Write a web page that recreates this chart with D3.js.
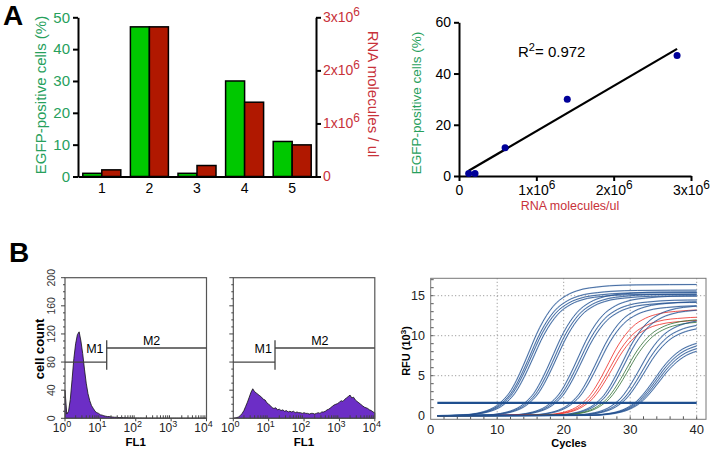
<!DOCTYPE html>
<html>
<head>
<meta charset="utf-8">
<script src="https://cdn.jsdelivr.net/npm/d3@7"></script>
<style>
  body { margin: 0; background: #fff; }
  svg { display: block; font-family: Arial, "Liberation Sans", Helvetica, sans-serif; }
</style>
</head>
<body>
<svg width="714" height="451"></svg>
<script>
// ---- panel A data
const barCategories = ["1", "2", "3", "4", "5"]
const egfpPercent = [1, 47, 1, 30, 11]
const rnaMolecules = [0.125e6, 2.82e6, 0.207e6, 1.40e6, 0.596e6]
const pctTicks = [0, 10, 20, 30, 40, 50]
const rnaTicks = [0, 1e6, 2e6, 3e6]
const scatterPctTicks = [0, 20, 40, 60]
const r2Text = "= 0.972"

// ---- panel B flow histograms (counts per 0.05 decade of FL1, 10^0 .. 10^4)
const flowCounts1 = [
    40, 6, 10, 27, 55, 85, 106, 119, 123, 110,
    92, 70, 50, 35, 25, 18, 14, 10, 8, 7,
    5, 4.5, 3.5, 3, 2.5, 2.5, 2, 1.8, 1.5, 1.5,
    1.2, 1, 1.1, 0.9, 0.8, 0.8, 0.6, 0.6, 0.5, 0.5,
    0.4, 0.4, 0.3, 0.4, 0.3, 0.3, 0.3, 0.2, 0.3, 0.2,
    0.2, 0.2, 0.2, 0.2, 0.2, 0.2, 0.2, 0.2, 0.2, 0.2,
    0.2, 0.2, 0.2, 0.2, 0.2, 0.2, 0.2, 0.2, 0.2, 0.2,
    0.2, 0.2, 0.2, 0.2, 0.2, 0.2, 0.2, 0.2, 0.2, 0.2, 0.2
]
const flowCounts2 = [
    0, 0.5, 1, 2, 4, 7, 11, 17, 23, 30,
    37, 42, 38, 36, 34, 32, 30, 27, 26, 22,
    20, 18, 15, 14, 15, 12, 13, 11, 12, 10,
    11, 9, 10, 9, 10, 8, 9, 8, 8, 7,
    8, 7, 7, 6, 7, 7, 6, 7, 8, 7,
    9, 9, 10, 12, 13, 15, 17, 19, 20, 21,
    23, 25, 24, 27, 29, 31, 33, 29, 30, 26,
    24, 22, 20, 18, 16, 15, 14, 12, 11, 9, 8
]
const flowLog = d3.range(flowCounts1.length).map(i => i * 0.05)
const flowCountTicks = [0, 40, 80, 120, 160, 200]
const flowDecades = [0, 1, 2, 3, 4]
const gateM1 = [1, 15.1]
const gateM2 = [15.1, 1e4]

// ---- panel B qPCR amplification curves
// shape of one amplification curve: cycles from midpoint -> fraction of plateau
const shapeOffset = [-26, -10, -8, -7, -6, -5, -4, -3, -2, -1, 0, 1, 2, 3, 4, 5, 6, 7, 8, 10, 12, 16, 26]
const shapeFraction = [0, 0.006, 0.018, 0.03, 0.048, 0.076, 0.12, 0.18, 0.27, 0.38, 0.5, 0.62, 0.72, 0.8, 0.86, 0.9, 0.93, 0.95, 0.965, 0.98, 0.99, 0.997, 1]
const curveMid = [14.9, 15.1, 15.3, 15.6, 18.5, 18.8, 19.1, 22.3, 22.6, 22.9, 25.2, 25.5,
    26.8, 27.1, 27.4, 29.0, 29.3, 29.6, 29.9, 31.6, 32.0, 32.3, 33.9, 34.1, 34.3, 34.5]
const curvePlateau = [16.4, 15.7, 15.4, 15.2, 15.5, 15.2, 15.0, 15.0, 14.5, 14.2, 14.3, 13.8,
    13.3, 12.4, 12.0, 13.9, 13.4, 12.2, 11.9, 12.2, 11.7, 11.3, 9.7, 9.4, 9.1, 8.8]
const curveSample = ["s", "s", "s", "s", "s", "s", "s", "s", "s", "s", "s", "s",
    "r", "r", "r", "s", "s", "g", "g", "s", "s", "s", "s", "s", "s", "s"]
const thresholdRFU = 1.6
const cycleTicks = [0, 10, 20, 30, 40]
const rfuTicks = [0, 5, 10, 15]

const GREEN_TEXT = "#27a05c"
const RED_TEXT = "#c8323a"
const svg = d3.select("svg")

function sixLabels(axisG) {
    axisG.selectAll(".tick text").each(function (d) {
        const t = d3.select(this)
        if (d === 0) return t.text("0")
        t.text(`${d / 1e6}x10`)
        t.append("tspan").attr("dy", "-0.5em").attr("font-size", "0.85em").text("6")
    })
}

function styleAxis(g, size) {
    g.select(".domain").attr("stroke-width", 2)
    g.selectAll(".tick line").attr("stroke-width", 2)
    g.selectAll(".tick text").attr("font-size", size)
}

// ================= Panel A, bars
svg.append("text").attr("x", 3).attr("y", 25).attr("font-size", 28).attr("font-weight", "bold").text("A")

const barX = d3.scaleBand().domain(barCategories).range([78, 316])
const pctY = d3.scaleLinear().domain([0, 50]).range([176.5, 17.3])
const rnaY = d3.scaleLinear().domain([0, 3e6]).range([176.5, 17.3])
const bw = 19

svg.append("g").selectAll("rect")
    .data(egfpPercent)
    .join("rect")
    .attr("x", (d, i) => barX(barCategories[i]) + barX.bandwidth() / 2 - bw)
    .attr("y", d => pctY(d))
    .attr("width", bw)
    .attr("height", d => pctY(0) - pctY(d))
    .attr("fill", "#00c800")
    .attr("stroke", "#000")
    .attr("stroke-width", 1.5)

svg.append("g").selectAll("rect")
    .data(rnaMolecules)
    .join("rect")
    .attr("x", (d, i) => barX(barCategories[i]) + barX.bandwidth() / 2)
    .attr("y", d => rnaY(d))
    .attr("width", bw)
    .attr("height", d => rnaY(0) - rnaY(d))
    .attr("fill", "#b01800")
    .attr("stroke", "#000")
    .attr("stroke-width", 1.5)

let g = svg.append("g").attr("transform", "translate(78,0)")
    .call(d3.axisLeft(pctY).tickValues(pctTicks).tickSize(5).tickSizeOuter(0).tickPadding(3))
styleAxis(g, 15)
g.selectAll(".tick text").attr("fill", GREEN_TEXT)

g = svg.append("g").attr("transform", "translate(316,0)")
    .call(d3.axisRight(rnaY).tickValues(rnaTicks).tickSize(5).tickSizeOuter(0).tickPadding(2))
styleAxis(g, 14)
g.selectAll(".tick text").attr("fill", RED_TEXT)
sixLabels(g)

g = svg.append("g").attr("transform", "translate(0,176.5)")
    .call(d3.axisBottom(barX).tickSize(0).tickPadding(7))
styleAxis(g, 14)

svg.append("text")
    .attr("transform", "translate(46,95) rotate(-90)")
    .attr("text-anchor", "middle").attr("font-size", 15).attr("fill", GREEN_TEXT)
    .text("EGFP-positive cells (%)")

svg.append("text")
    .attr("transform", "translate(368,94) rotate(90)")
    .attr("text-anchor", "middle").attr("font-size", 15).attr("fill", RED_TEXT)
    .text("RNA molecules / ul")

// ================= Panel A, scatter with linear fit
const scX = d3.scaleLinear().domain([0, 3e6]).range([459, 691])
const scY = d3.scaleLinear().domain([0, 60]).range([176, 22.3])

g = svg.append("g").attr("transform", "translate(459,0)")
    .call(d3.axisLeft(scY).tickValues(scatterPctTicks).tickSize(5).tickSizeOuter(0).tickPadding(3))
styleAxis(g, 14)
g = svg.append("g").attr("transform", "translate(0,176)")
    .call(d3.axisBottom(scX).tickValues(rnaTicks).tickSize(5).tickSizeOuter(0).tickPadding(4))
styleAxis(g, 14)
sixLabels(g)

const mx = d3.mean(rnaMolecules), my = d3.mean(egfpPercent)
const slope = d3.sum(rnaMolecules, (x, i) => (x - mx) * (egfpPercent[i] - my)) /
    d3.sum(rnaMolecules, x => (x - mx) ** 2)
const fitX = d3.extent(rnaMolecules)
svg.append("line")
    .attr("x1", scX(fitX[0])).attr("y1", scY(my + slope * (fitX[0] - mx)))
    .attr("x2", scX(fitX[1])).attr("y2", scY(my + slope * (fitX[1] - mx)))
    .attr("stroke", "#000").attr("stroke-width", 2.2)

svg.append("g").selectAll("circle")
    .data(rnaMolecules)
    .join("circle")
    .attr("cx", d => scX(d))
    .attr("cy", (d, i) => scY(egfpPercent[i]))
    .attr("r", 3.5)
    .attr("fill", "#000099")

const r2 = svg.append("text").attr("x", 518).attr("y", 57).attr("font-size", 15).text("R")
r2.append("tspan").attr("dy", -6).attr("font-size", 11).text("2")
r2.append("tspan").attr("dy", 6).text(r2Text)

svg.append("text")
    .attr("transform", "translate(421,103) rotate(-90)")
    .attr("text-anchor", "middle").attr("font-size", 13.5).attr("fill", GREEN_TEXT)
    .text("EGFP-positive cells (%)")
svg.append("text")
    .attr("x", 570).attr("y", 210)
    .attr("text-anchor", "middle").attr("font-size", 12.5).attr("fill", RED_TEXT)
    .text("RNA molecules/ul")

// ================= Panel B, flow histograms
svg.append("text").attr("x", 9).attr("y", 262).attr("font-size", 28).attr("font-weight", "bold").text("B")

function drawFlow(x0, counts, withCountLabels) {
    const fx = d3.scaleLog().domain([1, 1e4]).range([x0, x0 + 141.5])
    const fy = d3.scaleLinear().domain([0, 200]).range([418.3, 277.7])
    const pg = svg.append("g")
    const pts = flowLog.map((lg, i) => [10 ** lg, counts[i]])

    pg.append("path")
        .datum(pts)
        .attr("d", d3.area().x(d => fx(d[0])).y0(fy(0)).y1(d => fy(d[1])))
        .attr("fill", "#6c2ec6")
        .attr("stroke", "#111")
        .attr("stroke-width", 0.8)

    pg.append("rect")
        .attr("x", fx(1)).attr("y", fy(200))
        .attr("width", fx(1e4) - fx(1)).attr("height", fy(0) - fy(200))
        .attr("fill", "none").attr("stroke", "#555").attr("stroke-width", 1.2)

    // count ticks, minor every 10
    pg.selectAll("line.ytick")
        .data(d3.range(0, 201, 10))
        .join("line")
        .attr("x1", d => fx(1) - (d % 40 === 0 ? 4 : 2)).attr("x2", fx(1))
        .attr("y1", d => fy(d)).attr("y2", d => fy(d))
        .attr("stroke", "#444").attr("stroke-width", 1)
    if (withCountLabels) {
        pg.selectAll("text.ylab")
            .data(flowCountTicks)
            .join("text")
            .attr("transform", d => `translate(${fx(1) - 10},${fy(d)}) rotate(-90)`)
            .attr("text-anchor", "middle").attr("font-size", 10.5).attr("fill", "#333")
            .text(d => d)
    }

    // log ticks inside the bottom edge
    const minor = []
    flowDecades.slice(0, -1).forEach(dec => d3.range(2, 10).forEach(m => minor.push(m * 10 ** dec)))
    pg.selectAll("line.xminor")
        .data(minor)
        .join("line")
        .attr("x1", d => fx(d)).attr("x2", d => fx(d))
        .attr("y1", fy(0)).attr("y2", fy(0) - 3)
        .attr("stroke", "#444").attr("stroke-width", 1)
    pg.selectAll("line.xmajor")
        .data(flowDecades)
        .join("line")
        .attr("x1", d => fx(10 ** d)).attr("x2", d => fx(10 ** d))
        .attr("y1", fy(0)).attr("y2", fy(0) + 3)
        .attr("stroke", "#444").attr("stroke-width", 1)

    const lab = pg.selectAll("text.xlab")
        .data(flowDecades)
        .join("text")
        .attr("x", d => fx(10 ** d) - 3).attr("y", 432)
        .attr("text-anchor", "middle").attr("font-size", 12).attr("fill", "#222")
        .text("10")
    lab.append("tspan").attr("dy", -5).attr("font-size", 9).text(d => d)

    pg.append("text")
        .attr("x", (fx(1) + fx(1e4)) / 2).attr("y", 446)
        .attr("text-anchor", "middle").attr("font-size", 11.5).attr("font-weight", "bold")
        .text("FL1")

    // gates
    const gate = pg.append("g").attr("stroke", "#444").attr("stroke-width", 1.3)
    gate.append("line").attr("x1", fx(gateM1[0])).attr("x2", fx(gateM1[1]))
        .attr("y1", fy(80)).attr("y2", fy(80))
    gate.append("line").attr("x1", fx(gateM1[1])).attr("x2", fx(gateM1[1]))
        .attr("y1", fy(69)).attr("y2", fy(111))
    gate.append("line").attr("x1", fx(gateM2[0])).attr("x2", fx(gateM2[1]))
        .attr("y1", fy(100)).attr("y2", fy(100))
    pg.append("text").attr("x", fx(7)).attr("y", fy(80) - 9)
        .attr("text-anchor", "middle").attr("font-size", 12.5).text("M1")
    pg.append("text").attr("x", fx(280)).attr("y", fy(100) - 3)
        .attr("text-anchor", "middle").attr("font-size", 12.5).text("M2")
}

drawFlow(65, flowCounts1, true)
drawFlow(233.3, flowCounts2, false)

svg.append("text")
    .attr("transform", "translate(44,349) rotate(-90)")
    .attr("text-anchor", "middle").attr("font-size", 13).attr("font-weight", "bold")
    .text("cell count")

// ================= Panel B, qPCR
const qx = d3.scaleLinear().domain([0, 40]).range([430.7, 696.7])
const qy = d3.scaleLinear().domain([0, 15]).range([415.7, 295.7])
const qLeft = 430.7, qRight = 706, qTop = 278.3, qBottom = 419.3
const qg = svg.append("g")

qg.selectAll("line.vgrid")
    .data(cycleTicks.slice(1))
    .join("line")
    .attr("x1", d => qx(d)).attr("x2", d => qx(d))
    .attr("y1", qTop).attr("y2", qBottom)
    .attr("stroke", "#8a8a8a").attr("stroke-dasharray", "1,2.5")
qg.selectAll("line.hgrid")
    .data(rfuTicks.slice(1))
    .join("line")
    .attr("x1", qLeft).attr("x2", qRight)
    .attr("y1", d => qy(d)).attr("y2", d => qy(d))
    .attr("stroke", "#8a8a8a").attr("stroke-dasharray", "1,2.5")

qg.selectAll("line.cyc")
    .data(d3.range(2, 42, 2))
    .join("line")
    .attr("x1", d => qx(d)).attr("x2", d => qx(d))
    .attr("y1", qBottom).attr("y2", qBottom - 3)
    .attr("stroke", "#555")
qg.selectAll("line.rfu")
    .data(d3.range(1, 18))
    .join("line")
    .attr("x1", qLeft).attr("x2", qLeft + 3)
    .attr("y1", d => qy(d)).attr("y2", d => qy(d))
    .attr("stroke", "#555")

qg.append("clipPath").attr("id", "cycClip")
    .append("rect")
    .attr("x", qx(1)).attr("y", qTop)
    .attr("width", qx(40) - qx(1)).attr("height", qBottom - qTop)

const sampleColor = { s: "#234f8e", r: "#ee2a22", g: "#2e6e34" }
const curves = curveMid.map((mid, i) => {
    const pts = [[1, 0]]
    shapeOffset.forEach((o, k) => {
        if (mid + o > 1) pts.push([mid + o, curvePlateau[i] * shapeFraction[k]])
    })
    return { pts, sample: curveSample[i] }
})
const line = d3.line().x(d => qx(d[0])).y(d => qy(d[1])).curve(d3.curveMonotoneX)
const cg = qg.append("g").attr("clip-path", "url(#cycClip)").attr("fill", "none")
cg.selectAll("path.halo")
    .data(curves.filter(c => c.sample === "s"))
    .join("path")
    .attr("d", c => line(c.pts))
    .attr("stroke", "#a9c2e0").attr("stroke-width", 1.6).attr("opacity", 0.55)
cg.selectAll("path.curve")
    .data(curves)
    .join("path")
    .attr("d", c => line(c.pts))
    .attr("stroke", c => sampleColor[c.sample])
    .attr("stroke-width", 0.8)

qg.append("line")
    .attr("x1", qx(1)).attr("x2", qx(40))
    .attr("y1", qy(thresholdRFU)).attr("y2", qy(thresholdRFU))
    .attr("stroke", "#1f4f8f").attr("stroke-width", 2.2)

qg.append("rect")
    .attr("x", qLeft).attr("y", qTop)
    .attr("width", qRight - qLeft).attr("height", qBottom - qTop)
    .attr("fill", "none").attr("stroke", "#777").attr("stroke-width", 1)

qg.selectAll("text.cyc")
    .data(cycleTicks)
    .join("text")
    .attr("x", d => qx(d)).attr("y", 434)
    .attr("text-anchor", "middle").attr("font-size", 13).attr("fill", "#222")
    .text(d => d)
qg.selectAll("text.rfu")
    .data(rfuTicks)
    .join("text")
    .attr("x", 425).attr("y", d => qy(d) + 4.5)
    .attr("text-anchor", "end").attr("font-size", 12.5).attr("fill", "#222")
    .text(d => d)

qg.append("text")
    .attr("x", 569).attr("y", 446.5)
    .attr("text-anchor", "middle").attr("font-size", 11).attr("font-weight", "bold")
    .text("Cycles")
const rfuLabel = qg.append("text")
    .attr("transform", "translate(410,351) rotate(-90)")
    .attr("text-anchor", "middle").attr("font-size", 11).attr("font-weight", "bold")
    .text("RFU (10")
rfuLabel.append("tspan").attr("dy", -4).attr("font-size", 8).text("3")
rfuLabel.append("tspan").attr("dy", 4).text(")")
</script>
</body>
</html>
